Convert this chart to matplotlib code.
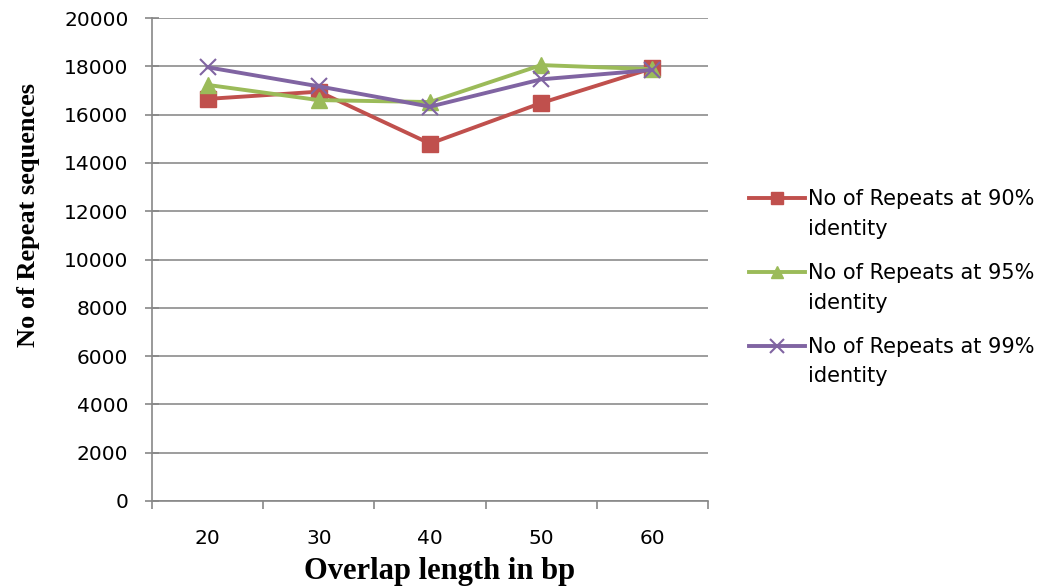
import matplotlib
matplotlib.use("Agg")
import numpy as np
import matplotlib.pyplot as plt
from matplotlib.ticker import FixedLocator
from matplotlib.legend_handler import HandlerLine2D

overlap = [20, 30, 40, 50, 60]
rep90 = [16650, 16950, 14800, 16480, 17920]
rep95 = [17230, 16600, 16520, 18050, 17880]
rep99 = [17960, 17170, 16330, 17460, 17850]
series_labels = ["No of Repeats at 90%\nidentity",
                 "No of Repeats at 95%\nidentity",
                 "No of Repeats at 99%\nidentity"]
yticks = list(range(0, 20001, 2000))

fig = plt.figure(figsize=(10.49, 5.88), dpi=100)
ax = fig.add_axes([152/1049, 1-501/588, (708-152)/1049, (501-18)/588])

ax.plot(overlap, rep90, color="#C0504D", lw=2.8, marker="s", ms=11, label=series_labels[0])
ax.plot(overlap, rep95, color="#9BBB59", lw=2.8, marker="^", ms=11, label=series_labels[1])
ax.plot(overlap, rep99, color="#8064A2", lw=2.8, marker="x", ms=12, mew=1.5, label=series_labels[2])

ax.set_xlim(15, 65)
ax.set_ylim(0, 20000)
ax.set_yticks(yticks)
ax.set_yticklabels([str(v) for v in yticks])
ax.set_xticks(overlap)
ax.xaxis.set_minor_locator(FixedLocator([15, 25, 35, 45, 55, 65]))
ax.tick_params(axis="x", which="major", length=0, pad=20, labelsize=14.5)
ax.tick_params(axis="x", which="minor", length=6, color="#888888", width=1.2)
ax.tick_params(axis="y", length=10, direction="inout", color="#888888", width=1.2,
               labelsize=14.5, pad=12)
ax.grid(axis="y", color="#8c8c8c", lw=1.2)
ax.set_axisbelow(True)
for s in ["top", "right"]:
    ax.spines[s].set_visible(False)
for s in ["left", "bottom"]:
    ax.spines[s].set_color("#888888")
    ax.spines[s].set_linewidth(1.2)

ax.set_ylabel("No of Repeat sequences", family="Liberation Serif", fontweight="bold",
              fontsize=19)
ax.yaxis.set_label_coords((40-152)/556, (501-215)/483)
ax.set_xlabel("Overlap length in bp", family="Liberation Serif", fontweight="bold",
              fontsize=22)
ax.xaxis.set_label_coords((440-152)/556, -(557-501)/483)


class TopHandler(HandlerLine2D):
    def create_artists(self, legend, orig_handle, xdescent, ydescent, width, height,
                       fontsize, trans):
        arts = super().create_artists(legend, orig_handle, xdescent, ydescent, width,
                                      height, fontsize, trans)
        for a in arts:
            a.set_ydata(np.asarray(a.get_ydata(), dtype=float) + 0.8 * fontsize)
        return arts


handles, labels = ax.get_legend_handles_labels()
leg = fig.legend(handles, labels, loc="upper left", bbox_to_anchor=(730/1049, 1-170/588),
                 frameon=False, fontsize=15, handlelength=2.7, handletextpad=0.12,
                 labelspacing=1.15, markerscale=0.85,
                 handler_map={h: TopHandler() for h in handles})
for t in leg.get_texts():
    t.set_linespacing(1.62)

fig.savefig("out.png", dpi=100)
